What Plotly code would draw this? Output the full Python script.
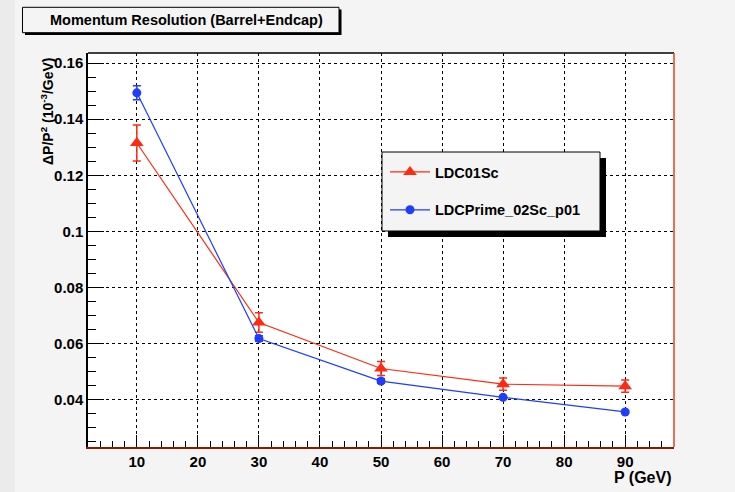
import plotly.graph_objects as go

# ---- data ----
p_gev = [10, 30, 50, 70, 90]
ldc01_res = [0.1315, 0.0675, 0.0511, 0.0455, 0.0448]
ldc01_err = [0.0064, 0.0035, 0.0025, 0.0022, 0.0022]
prime_res = [0.1494, 0.0618, 0.0466, 0.0408, 0.0356]
prime_err = [0.0025, 0.0010, 0.0008, 0.0006, 0.0005]
series_names = ["LDC01Sc", "LDCPrime_02Sc_p01"]

W, H = 735, 492
L, R, T, B = 88, 61, 53, 45
pw, ph = W - L - R, H - T - B

def px2x(px):
    return (px - L) / pw

def py2y(py):
    return (H - B - py) / ph

FONT = "Liberation Sans, Arial, sans-serif"
RED = "#ff2a10"
BLUE = "#1f3dff"

fig = go.Figure()
fig.add_trace(go.Scatter(
    x=p_gev, y=ldc01_res, name="<b>" + series_names[0] + "</b>", legendgroup="a",
    mode="lines+markers",
    line=dict(color=RED, width=1.2),
    marker=dict(symbol="triangle-up", size=12, color=RED),
    error_y=dict(type="data", array=ldc01_err, color=RED, thickness=1.5, width=4),
))
fig.add_trace(go.Scatter(
    x=p_gev, y=prime_res, name="<b>" + series_names[1] + "</b>", legendgroup="b",
    mode="lines+markers",
    line=dict(color=BLUE, width=1.2),
    marker=dict(symbol="circle", size=9, color=BLUE),
    error_y=dict(type="data", array=prime_err, color=BLUE, thickness=1.5, width=4),
))

shapes = []
# left window shadow strip
shapes.append(dict(type="rect", xref="paper", yref="paper", x0=px2x(0), x1=px2x(15),
                   y0=py2y(H), y1=py2y(0), fillcolor="#ebebeb", line=dict(width=0), layer="below"))
# frame top (black) and right (red)
shapes.append(dict(type="line", xref="paper", yref="paper", x0=0, x1=1, y0=1, y1=1,
                   line=dict(color="black", width=1.5)))
shapes.append(dict(type="line", xref="paper", yref="paper", x0=1, x1=1, y0=0, y1=1,
                   line=dict(color="#e8401c", width=1.5)))
# title box shadow and box
shapes.append(dict(type="rect", xref="paper", yref="paper",
                   x0=px2x(25), x1=px2x(341.5), y0=py2y(35), y1=py2y(9.5),
                   fillcolor="black", line=dict(width=0)))
shapes.append(dict(type="rect", xref="paper", yref="paper",
                   x0=px2x(22.5), x1=px2x(339), y0=py2y(32.7), y1=py2y(7.3),
                   fillcolor="#f4f4f4", line=dict(color="black", width=1)))
# legend box shadow and box
shapes.append(dict(type="rect", xref="paper", yref="paper",
                   x0=px2x(388), x1=px2x(606), y0=py2y(237), y1=py2y(158),
                   fillcolor="black", line=dict(width=0)))
shapes.append(dict(type="rect", xref="paper", yref="paper",
                   x0=px2x(382), x1=px2x(600), y0=py2y(231), y1=py2y(152),
                   fillcolor="#f4f4f4", line=dict(color="black", width=1)))

annotations = [
    dict(text="<b>Momentum Resolution (Barrel+Endcap)</b>", xref="paper", yref="paper",
         x=px2x(186), y=py2y(20), xanchor="center", yanchor="middle", showarrow=False,
         font=dict(family=FONT, size=14.5, color="black")),
    dict(text="<b>ΔP/P<sup>2</sup> (10<sup>-3</sup>/GeV)</b>", xref="paper", yref="paper",
         x=px2x(47), y=py2y(55), xanchor="center", yanchor="top", textangle=-90,
         showarrow=False, font=dict(family=FONT, size=14, color="black")),
    dict(text="<b>P (GeV)</b>", xref="paper", yref="paper",
         x=1, y=py2y(477), xanchor="right", yanchor="middle", showarrow=False,
         font=dict(family=FONT, size=16, color="black")),
]

fig.update_layout(
    width=W, height=H,
    margin=dict(l=L, r=R, t=T, b=B),
    paper_bgcolor="#f4f4f4", plot_bgcolor="white",
    font=dict(family=FONT, color="black"),
    shapes=shapes, annotations=annotations,
    showlegend=True,
    legend=dict(x=px2x(385), y=py2y(156), xanchor="left", yanchor="top",
                bgcolor="rgba(0,0,0,0)", borderwidth=0,
                traceorder="grouped", tracegroupgap=16,
                font=dict(family=FONT, size=14.5, color="black"),
                itemwidth=40),
)
fig.update_xaxes(
    range=[2, 98], dtick=10, tick0=0,
    showgrid=True, gridcolor="black", griddash="dot", gridwidth=1,
    zeroline=False, showline=True, linecolor="#8b1a00", linewidth=1.5,
    ticks="inside", ticklen=12, tickcolor="black",
    minor=dict(ticks="inside", ticklen=6, dtick=2, tickcolor="black", showgrid=False),
    tickfont=dict(family=FONT, size=15, color="black"),
    tickprefix="<b>", ticksuffix="</b>",
)
fig.update_yaxes(
    range=[0.0231, 0.1636], dtick=0.02, tick0=0,
    showgrid=True, gridcolor="black", griddash="dot", gridwidth=1,
    zeroline=False, showline=True, linecolor="black", linewidth=1.5,
    ticks="inside", ticklen=16, tickcolor="black",
    minor=dict(ticks="inside", ticklen=8, dtick=0.005, tickcolor="black", showgrid=False),
    tickfont=dict(family=FONT, size=15, color="black"),
    tickprefix="<b>", ticksuffix="</b>", tickformat=".2~f",
)

fig.write_html("out.html")
